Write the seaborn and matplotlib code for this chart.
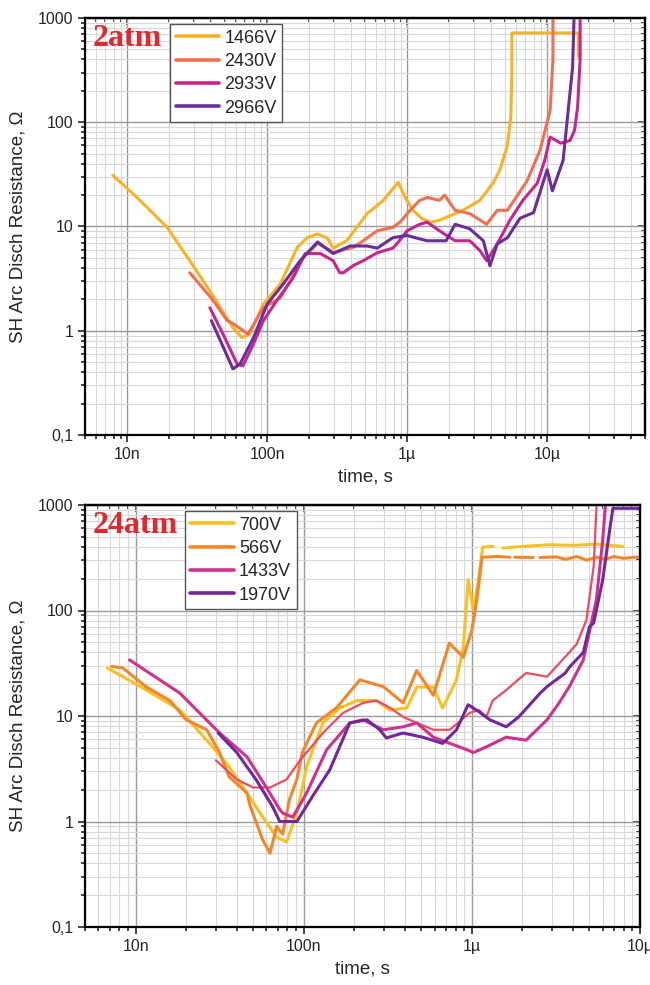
import numpy as np
import pandas as pd
import matplotlib
matplotlib.use("Agg")
import matplotlib.pyplot as plt
import matplotlib.ticker as mticker
import seaborn as sns

# ---------------- data (time in ns, resistance in Ohm) ----------------
# Top panel: 2 atm
t_1466 = [7.9, 12, 19.3, 28, 39, 57, 66, 75, 94, 124, 164, 193, 229, 270, 296, 370, 518, 675, 863, 969,
          1100, 1280, 1460, 1680, 2500, 3300, 4100, 4600, 5200, 5500, 5600, 5600, 15500, 16700, 16700]
r_1466 = [31, 18.5, 9.8, 4.7, 2.4, 1.07, 0.86, 0.93, 1.8, 2.8, 6.3, 7.8, 8.5, 7.7, 6.2, 7.3, 13.3, 17.8, 26.5, 19,
          14.3, 11.9, 11, 11.4, 14.3, 17.8, 26, 35, 60, 112, 300, 718, 718, 718, 420]

t_2430 = [28, 40, 52, 57, 73, 94, 124, 150, 180, 230, 282, 296, 410, 486, 611, 790, 890, 1050, 1230, 1390,
          1700, 1850, 2200, 2800, 3700, 4400, 5200, 6000, 7200, 8900, 10500, 11000, 11000, 17000]
r_2430 = [3.6, 2.05, 1.25, 1.17, 0.93, 1.66, 2.07, 3.2, 5.0, 6.9, 5.9, 5.6, 6.3, 7.3, 9.1, 9.8, 11, 14.3, 17.8, 19,
          17.8, 20, 14.3, 13.3, 10.5, 14.3, 14.3, 19, 27.5, 54, 130, 400, 1500, 1500]

t_2933 = [39, 50, 61, 67, 80, 94, 117, 153, 187, 240, 296, 330, 350, 410, 486, 611, 790, 843, 1000, 1230,
          1390, 1700, 2200, 2800, 3300, 3700, 4400, 5400, 6700, 8500, 9600, 10500, 12500, 14600, 15700, 16500,
          17200, 17200]
r_2933 = [1.66, 0.85, 0.48, 0.46, 0.75, 1.25, 1.94, 3.2, 5.5, 5.5, 4.7, 3.6, 3.6, 4.2, 4.7, 5.6, 6.2, 6.8, 9.1, 10.5,
          11, 9.1, 7.3, 7.3, 5.9, 4.7, 6.8, 11.4, 17.8, 26, 43, 72, 63, 67, 84, 139,
          400, 1500]

t_2966 = [40, 57, 64, 80, 100, 130, 172, 229, 296, 390, 518, 611, 790, 1000, 1230, 1390, 1900, 2200, 2800,
          3500, 3900, 4400, 5200, 6400, 8000, 10000, 10900, 13000, 15200, 15700, 17500]
r_2966 = [1.25, 0.43, 0.48, 0.86, 1.8, 2.8, 4.7, 7.1, 5.5, 6.5, 6.5, 6.2, 7.8, 8.2, 7.6, 7.3, 7.3, 10.5, 9.5,
          7.3, 4.2, 6.8, 7.8, 12, 13.6, 35, 22, 43, 337, 1500, 1500]

# Bottom panel: 24 atm
t_700_a = [6.8, 11.6, 18.3, 28.7, 36, 46, 55, 69, 79, 91, 104, 130, 164, 207, 270, 325, 410, 470, 590, 670,
           810, 890, 950, 1020, 1100, 1160, 1330]
r_700_a = [28.5, 17.6, 11.4, 5.1, 3.3, 1.86, 1.2, 0.71, 0.64, 1.2, 3.3, 8.6, 11.9, 14, 14, 11.4, 11.9, 18.8, 18.8, 11.9,
           22, 45, 195, 100, 207, 400, 405]
t_700_b = [1530, 2000, 2900, 4000, 5500, 7900]
r_700_b = [390, 405, 420, 415, 425, 405]

t_566_a = [7.2, 8.4, 11.6, 16, 20, 26.5, 31.6, 36, 46, 48, 57, 63, 69, 75, 82, 91, 98, 119, 157, 216, 297, 390,
           470, 590, 735, 890, 1000, 1070, 1150, 1400, 1680]
r_566_a = [29.5, 28.5, 18.8, 14, 9.2, 7.4, 4.5, 2.65, 1.86, 1.4, 0.67, 0.5, 0.9, 0.76, 1.6, 2.5, 4.5, 8.6, 12, 22, 19,
           13.3, 27, 15.7, 49, 36, 65, 126, 320, 325, 320]
t_566_b = [1800, 2310]
r_566_b = [320, 318]
t_566_c = [2540, 3200, 3600, 4200, 4800, 5500, 6200, 7000, 8000, 9300, 10000]
r_566_c = [318, 322, 305, 325, 300, 320, 305, 325, 312, 320, 318]

t_1433 = [9.2, 18.3, 31.6, 46, 60, 72, 75, 86, 104, 137, 188, 225, 297, 390, 470, 590, 740, 930, 1020, 1220,
          1600, 2100, 2800, 3300, 3800, 4600, 5500, 6000, 6200, 6400]
r_1433 = [34, 16.5, 6.9, 4.1, 2.1, 1.3, 1.2, 1.1, 1.86, 4.8, 8.6, 9.2, 7.4, 7.9, 8.6, 6.3, 5.5, 4.8, 4.5, 5.1,
          6.3, 5.9, 9.2, 13.3, 19, 34, 126, 465, 900, 1500]

t_1970 = [31, 40, 52, 65, 72, 91, 113, 143, 188, 238, 283, 310, 390, 510, 670, 810, 950, 1100, 1280, 1600, 1900,
          2550, 2800, 3600, 3800, 4600, 5000, 5300, 6000, 6600, 6900, 10000]
r_1970 = [6.9, 4.5, 2.5, 1.4, 1.0, 1.0, 1.74, 3.1, 8.6, 9.2, 7.4, 6.2, 6.9, 6.3, 5.5, 7.4, 12.8, 11, 9.2, 7.9, 9.8,
          16.5, 19, 25.6, 29, 40, 70, 76, 195, 580, 930, 930]

t_extra = [30, 40, 50, 63, 79, 95, 130, 171, 225, 270, 325, 390, 470, 590, 740, 970, 1100, 1220, 1330, 1600,
           2100, 2800, 3600, 3900, 4200, 4800, 5300, 5500, 5600]
r_extra = [3.8, 2.5, 2.1, 2.1, 2.5, 3.8, 6.9, 10.7, 13.3, 14, 12, 9.8, 8.6, 7.4, 7.4, 10.7, 11.4, 9.8, 14, 17.6,
           25.6, 23.6, 36.5, 42, 48, 81, 260, 900, 1500]

labels_top = ["1466V", "2430V", "2933V", "2966V"]
labels_bot = ["700V", "566V", "1433V", "1970V"]
x_ticks = [1e-8, 1e-7, 1e-6, 1e-5]
x_ticklabels = ["10n", "100n", "1µ", "10µ"]
y_ticks = [0.1, 1, 10, 100, 1000]
y_ticklabels = ["0,1", "1", "10", "100", "1000"]

# ---------------- style ----------------
sns.set_style("ticks")
plt.rcParams["font.family"] = ["Liberation Sans", "DejaVu Sans"]

fig = plt.figure(figsize=(6.5, 9.85), dpi=100)
ax1 = fig.add_axes([85 / 650, 1 - 435 / 985, 560 / 650, 417 / 985])
ax2 = fig.add_axes([85 / 650, 1 - 927 / 985, 555 / 650, 422 / 985])


def seg(ax, t, r, color, label=None, lw=2.2):
    df = pd.DataFrame({"t": np.array(t) * 1e-9, "R": r})
    sns.lineplot(data=df, x="t", y="R", ax=ax, color=color, lw=lw, sort=False,
                 estimator=None, label=label if label else "_nolegend_", solid_capstyle="round")


c_top = ["#F8B323", "#F2704D", "#C9258F", "#6B2D9B"]
seg(ax1, t_1466, r_1466, c_top[0], labels_top[0])
seg(ax1, t_2430, r_2430, c_top[1], labels_top[1])
seg(ax1, t_2933, r_2933, c_top[2], labels_top[2])
seg(ax1, t_2966, r_2966, c_top[3], labels_top[3])

c_bot = ["#F9C020", "#F4862A", "#D2308D", "#74269C"]
seg(ax2, t_700_a, r_700_a, c_bot[0], labels_bot[0])
seg(ax2, t_700_b, r_700_b, c_bot[0])
seg(ax2, t_566_a, r_566_a, c_bot[1], labels_bot[1])
seg(ax2, t_566_b, r_566_b, c_bot[1])
seg(ax2, t_566_c, r_566_c, c_bot[1])
seg(ax2, t_extra, r_extra, "#EE4B62", None, lw=1.6)
seg(ax2, t_1433, r_1433, c_bot[2], labels_bot[2])
seg(ax2, t_1970, r_1970, c_bot[3], labels_bot[3])

for ax, xr, title, leg_labels, leg_x in [
        (ax1, (5e-9, 5e-5), "2atm", labels_top, 0.152),
        (ax2, (5e-9, 1e-5), "24atm", labels_bot, 0.18)]:
    ax.set_xscale("log")
    ax.set_yscale("log")
    ax.set_xlim(*xr)
    ax.set_ylim(0.1, 1000)
    ax.set_xticks(x_ticks)
    ax.set_xticklabels(x_ticklabels)
    ax.set_yticks(y_ticks)
    ax.set_yticklabels(y_ticklabels)
    ax.xaxis.set_minor_locator(mticker.LogLocator(base=10, subs=np.arange(2, 10), numticks=20))
    ax.yaxis.set_minor_locator(mticker.LogLocator(base=10, subs=np.arange(2, 10), numticks=20))
    ax.xaxis.set_minor_formatter(mticker.NullFormatter())
    ax.yaxis.set_minor_formatter(mticker.NullFormatter())
    ax.grid(which="major", color="#9a9a9a", lw=1.0)
    ax.grid(which="minor", color="#d8d8d8", lw=0.8)
    ax.set_axisbelow(True)
    for s in ax.spines.values():
        s.set_linewidth(1.6)
        s.set_color("black")
    ax.tick_params(which="both", direction="out", top=False, right=False, labelsize=11.5, width=1.2)
    ax.tick_params(which="major", length=5)
    ax.tick_params(which="minor", length=3)
    # inner mirror ticks on top/right
    axt = ax.secondary_xaxis("top")
    axt.set_xticks(x_ticks)
    axt.xaxis.set_minor_locator(mticker.LogLocator(base=10, subs=np.arange(2, 10), numticks=20))
    axt.tick_params(which="both", direction="in", labeltop=False, width=1.2)
    axt.tick_params(which="major", length=5)
    axt.tick_params(which="minor", length=3)
    axt.xaxis.set_minor_formatter(mticker.NullFormatter())
    axt.spines["top"].set_linewidth(1.6)
    axr = ax.secondary_yaxis("right")
    axr.set_yticks(y_ticks)
    axr.yaxis.set_minor_locator(mticker.LogLocator(base=10, subs=np.arange(2, 10), numticks=20))
    axr.tick_params(which="both", direction="in", labelright=False, width=1.2)
    axr.tick_params(which="major", length=5)
    axr.tick_params(which="minor", length=3)
    axr.yaxis.set_minor_formatter(mticker.NullFormatter())
    axr.spines["right"].set_linewidth(1.6)

    ax.set_xlabel("time, s", fontsize=13.5, labelpad=5)
    ax.set_ylabel("SH Arc Disch Resistance, Ω", fontsize=13.5, labelpad=8)
    ax.text(0.014, 0.985, title, transform=ax.transAxes, ha="left", va="top",
            fontsize=23, fontweight="bold", color="#E5262B", family=["Liberation Serif", "DejaVu Serif"])
    handles, labs = ax.get_legend_handles_labels()
    order = [labs.index(l) for l in leg_labels]
    leg = ax.legend([handles[i] for i in order], [labs[i] for i in order],
                    loc="upper left", bbox_to_anchor=(leg_x, 0.985), borderaxespad=0,
                    fontsize=13, frameon=True, fancybox=False, framealpha=1,
                    edgecolor="#555555", handlelength=2.4, handletextpad=0.3,
                    labelspacing=0.35, borderpad=0.3)
    leg.get_frame().set_linewidth(1.0)
    for h in leg.get_lines():
        h.set_linewidth(2.6)

fig.savefig("out.png", dpi=100)
